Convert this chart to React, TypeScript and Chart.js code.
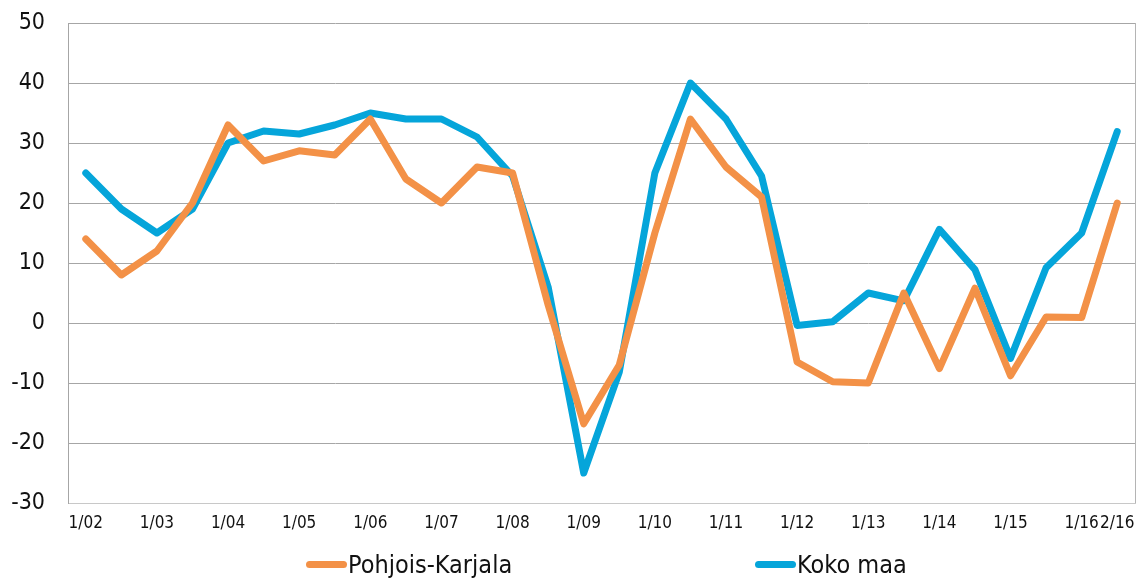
import React, { useEffect, useRef } from "react";
import { Chart, registerables } from "chart.js";

Chart.register(...registerables);

const categories = [
  "1/02", "", "1/03", "", "1/04", "", "1/05", "", "1/06", "", "1/07", "", "1/08", "", "1/09", "",
  "1/10", "", "1/11", "", "1/12", "", "1/13", "", "1/14", "", "1/15", "", "1/16", "2/16",
];

const pohjoisKarjala = [
  14, 8, 12, 20, 33, 27, 28.7, 28, 34, 24, 20, 26, 25, 3, -16.8, -7,
  15, 34, 26, 21, -6.5, -9.8, -10, 5, -7.6, 5.8, -8.8, 1, 0.9, 20,
];

const kokoMaa = [
  25, 19, 15, 19, 30, 32, 31.5, 33, 35, 34, 34, 31, 24.5, 6, -25, -8.2,
  25, 40, 34, 24.5, -0.4, 0.2, 5, 3.7, 15.6, 8.9, -5.9, 9.2, 15, 31.9,
];

const seriesNames = ["Pohjois-Karjala", "Koko maa"];
const seriesColors = ["#F39147", "#05A5DA"];
const yTicks = { min: -30, max: 50, step: 10 };

const FONT = "'Liberation Sans Narrow', 'DejaVu Sans Condensed', 'Liberation Sans', sans-serif";

const frameRight = {
  id: "frameRight",
  afterDraw(chart: any) {
    const { ctx, chartArea } = chart;
    ctx.save();
    ctx.strokeStyle = "#B4B4B4";
    ctx.lineWidth = 1;
    ctx.beginPath();
    ctx.moveTo(Math.round(chartArea.right) + 0.5, chartArea.top);
    ctx.lineTo(Math.round(chartArea.right) + 0.5, chartArea.bottom);
    ctx.stroke();
    ctx.restore();
  },
};

export default function App() {
  const canvasRef = useRef<HTMLCanvasElement | null>(null);

  useEffect(() => {
    if (!canvasRef.current) return;
    const chart = new Chart(canvasRef.current, {
      type: "line",
      data: {
        labels: categories,
        datasets: [
          {
            label: seriesNames[0],
            data: pohjoisKarjala,
            borderColor: seriesColors[0],
            backgroundColor: seriesColors[0],
            borderWidth: 7,
            pointRadius: 0,
            tension: 0,
            borderJoinStyle: "round",
            borderCapStyle: "round",
          },
          {
            label: seriesNames[1],
            data: kokoMaa,
            borderColor: seriesColors[1],
            backgroundColor: seriesColors[1],
            borderWidth: 7,
            pointRadius: 0,
            tension: 0,
            borderJoinStyle: "round",
            borderCapStyle: "round",
          },
        ],
      },
      options: {
        animation: false,
        responsive: true,
        maintainAspectRatio: false,
        layout: { padding: { top: 23, right: 13, left: 0, bottom: 0 } },
        plugins: {
          legend: { display: false },
          tooltip: { enabled: false },
        },
        scales: {
          x: {
            offset: true,
            grid: { display: false, drawTicks: false },
            border: { display: true, color: "#C8C8C8", width: 1 },
            ticks: {
              autoSkip: false,
              maxRotation: 0,
              minRotation: 0,
              padding: 10,
              color: "#111",
              font: { family: FONT, size: 17 },
            },
            afterFit(scale: any) {
              scale.height = 75;
            },
          },
          y: {
            min: yTicks.min,
            max: yTicks.max,
            ticks: {
              stepSize: yTicks.step,
              padding: 23,
              color: "#111",
              font: { family: FONT, size: 23 },
            },
            grid: { color: "#A6A6A6", drawTicks: false, lineWidth: 1 },
            border: { display: true, color: "#A6A6A6", width: 1 },
            afterFit(scale: any) {
              scale.width = 68;
              scale.paddingTop = 12;
              scale.paddingBottom = 12;
            },
          },
        },
      },
      plugins: [frameRight],
    });
    return () => chart.destroy();
  }, []);

  const legendItem = (i: number, left: number) => (
    <div
      key={i}
      style={{
        position: "absolute",
        left,
        top: 550,
        display: "flex",
        alignItems: "center",
        height: 28,
        fontFamily: FONT,
        fontSize: 25,
        color: "#111",
        whiteSpace: "nowrap",
      }}
    >
      <span
        style={{
          display: "inline-block",
          width: 41,
          height: 7,
          borderRadius: 4,
          background: seriesColors[i],
          marginRight: 1,
        }}
      />
      <span>{seriesNames[i]}</span>
    </div>
  );

  return (
    <div style={{ position: "absolute", left: 0, top: 0, width: 1148, height: 578, background: "#fff" }}>
      <canvas ref={canvasRef} />
      {legendItem(0, 306)}
      {legendItem(1, 755)}
    </div>
  );
}
